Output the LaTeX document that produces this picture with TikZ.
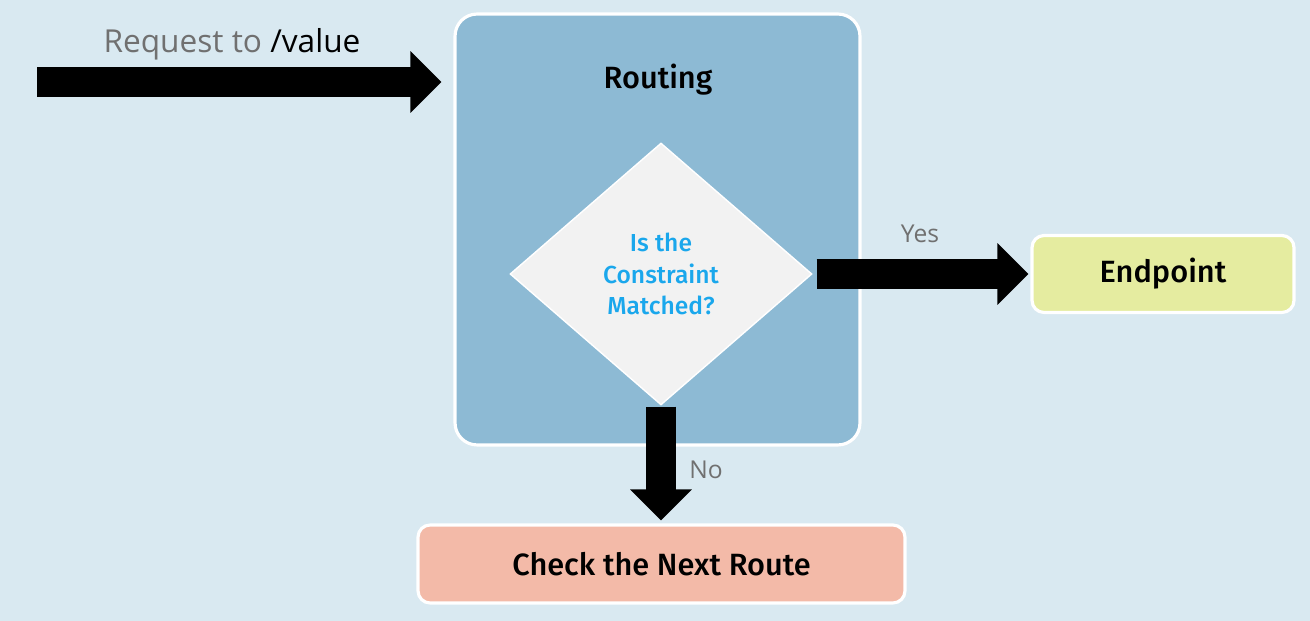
\documentclass[tikz,border=0pt]{standalone}
\usepackage{fontspec}
\setmainfont{Open Sans}
\newfontfamily\dinfont{Fira Sans Medium}
\usetikzlibrary{shapes.geometric,arrows.meta}

\definecolor{bgblue}{HTML}{D9E9F1}
\definecolor{routeblue}{HTML}{8DBAD4}
\definecolor{diagrey}{HTML}{F2F2F2}
\definecolor{askcyan}{HTML}{1AA7EC}
\definecolor{endgreen}{HTML}{E5ECA0}
\definecolor{nextred}{HTML}{F3BAA8}
\definecolor{labelgrey}{HTML}{707070}

\tikzset{
  stagebox/.style={draw=white, line width=1.8pt, font=\dinfont\fontsize{17.5}{21}\selectfont},
  bigarrow/.style={line width=0.6cm, -{Triangle[length=0.62cm, width=1.2cm]}},
  armlabel/.style={text=labelgrey, font=\fontsize{14}{17}\selectfont}
}

\begin{document}
\begin{tikzpicture}[x=0.02cm, y=0.02cm]
        % Background
        \fill[bgblue] (0,0) rectangle (1310,621);
        \useasboundingbox (0,0) rectangle (1310,621);

        % Routing container and the check inside it
        \node[stagebox, fill=routeblue, rounded corners=0.44cm, minimum width=8.1cm, minimum height=8.62cm] (routing) at (657.5,391.5) {};
        \node[font=\dinfont\fontsize{17.5}{21}\selectfont] (routingtitle) at (658,541) {Routing};
        \node[diamond, draw=white, line width=0.8pt, fill=diagrey, inner sep=0pt, minimum width=6.04cm, minimum height=5.24cm,
              text=askcyan, align=center, font=\dinfont\fontsize{14}{18}\selectfont] (decision) at (661,347)
              {Is the\\Constraint\\Matched?};

        % Outcomes
        \node[stagebox, fill=endgreen, rounded corners=0.24cm, minimum width=5.24cm, minimum height=1.54cm] (endpoint) at (1163,347) {Endpoint};
        \node[stagebox, fill=nextred, rounded corners=0.24cm, minimum width=9.74cm, minimum height=1.56cm] (nextroute) at (661.5,57) {Check the Next Route};

        % Incoming request
        \coordinate (request) at (37,539);
        \draw[bigarrow, shorten >=0.24cm] (request) -- (request -| routing.west);
        \node[font=\fontsize{18}{22}\selectfont] (requestlabel) at (232,577) {\textcolor{labelgrey}{Request to} /value};

        % Yes and No arrows
        \draw[bigarrow, shorten <=0.08cm, shorten >=0.04cm] (decision.east) -- (endpoint.west);
        \node[armlabel] (yeslabel) at (920,387) {Yes};
        \draw[bigarrow, shorten <=0.02cm, shorten >=0.06cm] (decision.south) -- (decision.south |- nextroute.north);
        \node[armlabel] (nolabel) at (706,151) {No};
\end{tikzpicture}
\end{document}
